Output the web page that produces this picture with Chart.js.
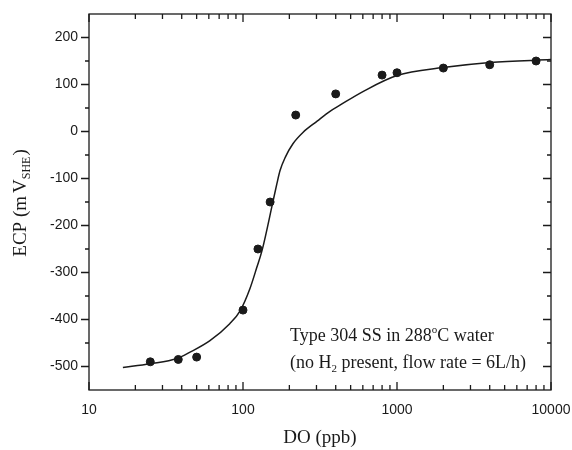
<!DOCTYPE html>
<html>
<head>
<meta charset="utf-8">
<script src="https://cdn.jsdelivr.net/npm/chart.js@4"></script>
<style>
  body { margin: 0; background: #fff; }
  #wrap { width: 572px; height: 450px; }
</style>
</head>
<body>
<div id="wrap"><canvas id="c" width="572" height="450"></canvas></div>
<script>
// measured points (DO ppb vs ECP mV)
const doPoints = [25, 38, 50, 100, 125, 150, 220, 400, 800, 1000, 2000, 4000, 8000];
const ecpPoints = [-490, -485, -480, -380, -250, -150, 35, 80, 120, 125, 135, 142, 150];

// fitted curve
const doCurve = [16.6, 24.9, 37.3, 45, 61, 82, 96, 111, 123, 133, 157, 166, 174, 188, 211, 245, 303, 367, 426, 601, 1000, 1991, 4020, 10000];
const ecpCurve = [-502, -494, -483, -470, -445, -409, -381, -334, -289, -253, -147, -111, -83, -55, -26, -2, 22, 43, 56, 85, 119, 136, 147, 153];

const xTicks = [10, 100, 1000, 10000];
const yTicks = [-500, -400, -300, -200, -100, 0, 100, 200];
const yMinor = [-450, -350, -250, -150, -50, 50, 150];

const ink = '#1a1a1a';
const serif = '"Liberation Serif", "Times New Roman", serif';

const xMinor = [];
for (let d = 10; d < 10000; d *= 10) {
  for (let k = 2; k <= 9; k++) xMinor.push(d * k);
}

const toXY = (xs, ys) => xs.map((x, i) => ({ x: x, y: ys[i] }));

// draw a run of text pieces, some raised or lowered
function drawPieces(ctx, pieces, x, y) {
  let cx = x;
  pieces.forEach(p => {
    ctx.font = p.size + 'px ' + serif;
    ctx.fillText(p.t, cx + (p.gap || 0), y + (p.dy || 0));
    cx += (p.gap || 0) + ctx.measureText(p.t).width;
  });
  return cx - x;
}
function piecesWidth(ctx, pieces) {
  let w = 0;
  pieces.forEach(p => {
    ctx.font = p.size + 'px ' + serif;
    w += (p.gap || 0) + ctx.measureText(p.t).width;
  });
  return w;
}

const framePlugin = {
  id: 'frame',
  afterDatasetsDraw(chart) {
    const ctx = chart.ctx;
    const a = chart.chartArea;
    const xs = chart.scales.x;
    const ys = chart.scales.y;
    ctx.save();
    ctx.strokeStyle = ink;
    ctx.lineWidth = 1.3;
    ctx.strokeRect(a.left, a.top, a.right - a.left, a.bottom - a.top);

    ctx.beginPath();
    // left: outward, right: inward
    yTicks.forEach(v => {
      const p = ys.getPixelForValue(v);
      ctx.moveTo(a.left - 8, p); ctx.lineTo(a.left, p);
      ctx.moveTo(a.right - 8, p); ctx.lineTo(a.right, p);
    });
    yMinor.forEach(v => {
      const p = ys.getPixelForValue(v);
      ctx.moveTo(a.left - 4, p); ctx.lineTo(a.left, p);
      ctx.moveTo(a.right - 4, p); ctx.lineTo(a.right, p);
    });
    // bottom and top: inward
    xTicks.forEach(v => {
      const p = xs.getPixelForValue(v);
      ctx.moveTo(p, a.bottom); ctx.lineTo(p, a.bottom - 8);
      ctx.moveTo(p, a.top); ctx.lineTo(p, a.top + 8);
    });
    xMinor.forEach(v => {
      const p = xs.getPixelForValue(v);
      ctx.moveTo(p, a.bottom); ctx.lineTo(p, a.bottom - 5);
      ctx.moveTo(p, a.top); ctx.lineTo(p, a.top + 5);
    });
    ctx.stroke();

    ctx.fillStyle = ink;
    ctx.textBaseline = 'alphabetic';
    ctx.textAlign = 'left';

    // x title
    const xt = [{ t: 'DO (ppb)', size: 19 }];
    drawPieces(ctx, xt, (a.left + a.right) / 2 - piecesWidth(ctx, xt) / 2, 443);

    // y title with subscript
    const yt = [
      { t: 'ECP (m', size: 19 },
      { t: 'V', size: 19, gap: 3 },
      { t: 'SHE', size: 12, dy: 4 },
      { t: ')', size: 19, gap: 1 }
    ];
    ctx.save();
    ctx.translate(26, 203);
    ctx.rotate(-Math.PI / 2);
    drawPieces(ctx, yt, -piecesWidth(ctx, yt) / 2, 0);
    ctx.restore();

    // annotation
    drawPieces(ctx, [
      { t: 'Type 304 SS in 288', size: 18 },
      { t: 'o', size: 11, dy: -8 },
      { t: 'C water', size: 18 }
    ], 290, 341);
    drawPieces(ctx, [
      { t: '(no H', size: 18 },
      { t: '2', size: 11, dy: 4 },
      { t: ' present, flow rate = 6L/h)', size: 18 }
    ], 290, 368);
    ctx.restore();
  }
};

new Chart(document.getElementById('c'), {
  type: 'scatter',
  data: {
    datasets: [
      {
        label: 'fit',
        data: toXY(doCurve, ecpCurve),
        showLine: true,
        borderColor: ink,
        borderWidth: 1.5,
        pointRadius: 0,
        cubicInterpolationMode: 'monotone',
        fill: false
      },
      {
        label: 'ECP',
        data: toXY(doPoints, ecpPoints),
        backgroundColor: ink,
        borderColor: ink,
        pointRadius: 4,
        pointHoverRadius: 4
      }
    ]
  },
  options: {
    responsive: false,
    animation: false,
    layout: { padding: { left: 0, right: 21, top: 14, bottom: 0 } },
    plugins: {
      legend: { display: false },
      tooltip: { enabled: false }
    },
    scales: {
      x: {
        type: 'logarithmic',
        min: 10,
        max: 10000,
        grid: { display: false },
        border: { display: false },
        afterBuildTicks: s => { s.ticks = xTicks.map(v => ({ value: v })); },
        afterFit: s => { s.height = 60; s.paddingLeft = 0; s.paddingRight = 0; },
        ticks: {
          padding: 4,
          color: ink,
          font: { family: '"Liberation Sans", Arial, sans-serif', size: 14 },
          maxRotation: 0,
          callback: v => String(v)
        }
      },
      y: {
        min: -550,
        max: 250,
        grid: { display: false },
        border: { display: false },
        afterBuildTicks: s => { s.ticks = yTicks.map(v => ({ value: v })); },
        afterFit: s => { s.width = 89; s.paddingTop = 0; s.paddingBottom = 0; },
        ticks: {
          padding: 3,
          color: ink,
          font: { family: '"Liberation Sans", Arial, sans-serif', size: 14 }
        }
      }
    }
  },
  plugins: [framePlugin]
});
</script>
</body>
</html>
